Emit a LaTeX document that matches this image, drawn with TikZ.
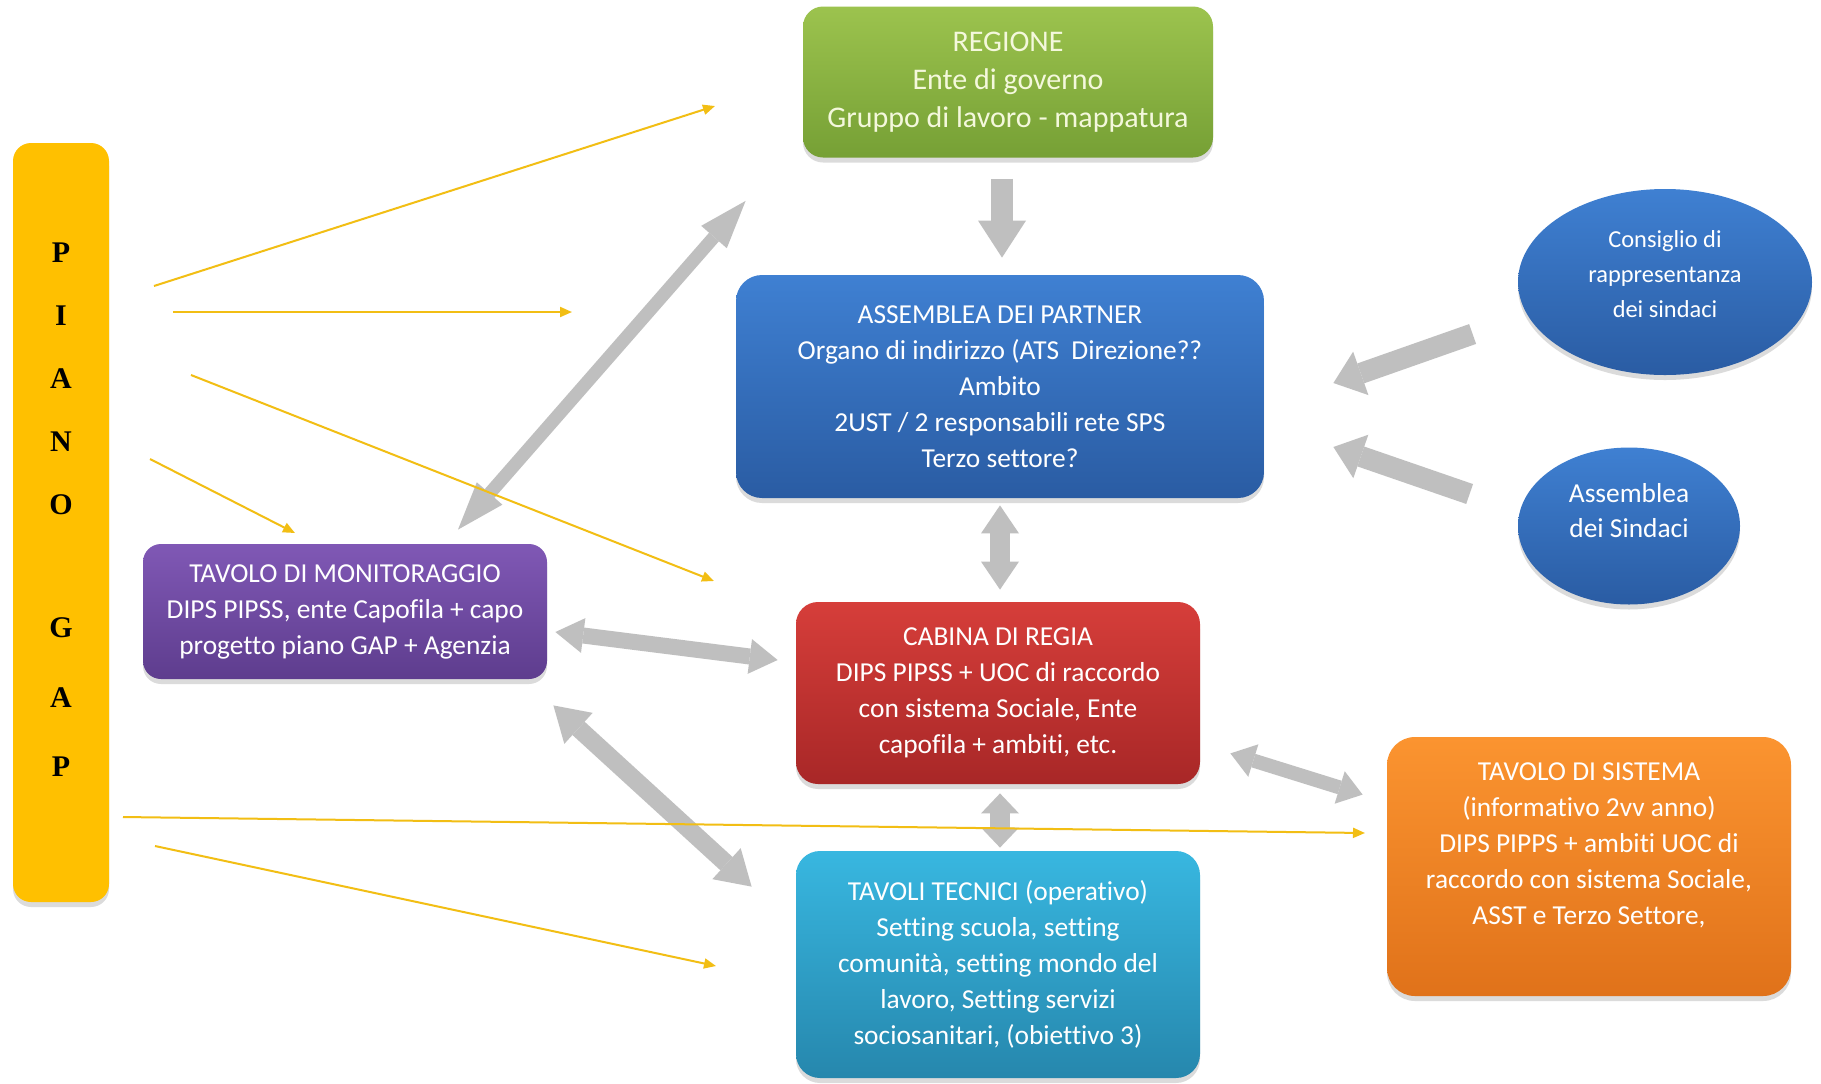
\documentclass[tikz,border=0pt]{standalone}
\usepackage{fontspec}
\setmainfont{Carlito}[Ligatures=NoCommon]
\newfontfamily\pianofont{Liberation Serif}
\usetikzlibrary{arrows.meta,shapes.geometric,shadows,calc}
\definecolor{pianoY}{HTML}{FFC000}
\definecolor{grTop}{HTML}{9CC34E}
\definecolor{grBot}{HTML}{76A035}
\definecolor{blTop}{HTML}{3F80D2}
\definecolor{blBot}{HTML}{2A5CA3}
\definecolor{puTop}{HTML}{8058B5}
\definecolor{puBot}{HTML}{5E3D8E}
\definecolor{rdTop}{HTML}{D63E3A}
\definecolor{rdBot}{HTML}{A82727}
\definecolor{cyTop}{HTML}{38B7E0}
\definecolor{cyBot}{HTML}{2687AD}
\definecolor{orTop}{HTML}{FB9430}
\definecolor{orBot}{HTML}{E0721A}
\definecolor{agray}{HTML}{BFBFBF}
\definecolor{yel}{HTML}{F2BE14}
\definecolor{regtext}{HTML}{F4F8DC}
\tikzset{
  shad/.style={drop shadow={opacity=0.28, shadow xshift=0pt, shadow yshift=-2.5pt}},
  box/.style={rectangle, rounded corners=10pt, draw=none, shad, align=center,
    text=white, font=\fontsize{13.7}{18}\selectfont, inner sep=0pt},
  ell/.style={ellipse, draw=none, shad, top color=blTop, bottom color=blBot, inner sep=0pt},
  etxt/.style={align=center, text=white, font=\fontsize{12.2}{17.5}\selectfont, inner sep=0pt},
  btxt/.style={align=center, text=white, font=\fontsize{13.7}{18}\selectfont, inner sep=0pt},
  gdbl/.style n args={3}{draw=agray, line width=#1,
    arrows={Triangle[width=#2,length=#3,line width=0pt]-Triangle[width=#2,length=#3,line width=0pt]}},
  gone/.style n args={3}{draw=agray, line width=#1,
    arrows={-Triangle[width=#2,length=#3,line width=0pt]}},
  yarr/.style={draw=yel, line width=1pt, arrows={-Triangle[width=5pt,length=6pt]}},
}
\begin{document}
\begin{tikzpicture}[x=0.5pt,y=-0.5pt]
\useasboundingbox (0,0) rectangle (1821,1083);
\fill[white] (0,0) rectangle (1821,1083);

% PIANO GAP bar
\node[box, rounded corners=9pt, fill=pianoY, minimum width=48pt, minimum height=379.5pt] (piano) at (61,522.5) {};
\node[anchor=north, align=center, inner sep=0pt, font=\pianofont\bfseries\fontsize{15}{31.5}\selectfont] (pianotext) at (61,242)
  {P\\I\\A\\N\\O\\[30pt]G\\[3.5pt]A\\[3pt]P};

% boxes
\node[box, top color=grTop, bottom color=grBot, text=regtext, font=\fontsize{15}{19}\selectfont, minimum width=205pt, minimum height=75.5pt] (regione) at (1008,82)
  {REGIONE\\Ente di governo\\Gruppo di lavoro - mappatura};
\node[box, rounded corners=13pt, top color=blTop, bottom color=blBot, minimum width=264pt, minimum height=111.5pt] (assemblea) at (1000,386.5)
  {ASSEMBLEA DEI PARTNER\\Organo di indirizzo (ATS\ \ Direzione??\\Ambito\\2UST / 2 responsabili rete SPS\\Terzo settore?};
\node[box, rounded corners=9pt, top color=puTop, bottom color=puBot, minimum width=202pt, minimum height=67.5pt] (mon) at (345,611.5)
  {TAVOLO DI MONITORAGGIO\\DIPS PIPSS, ente Capofila + capo\\progetto piano GAP + Agenzia};
\node[box, rounded corners=11pt, top color=rdTop, bottom color=rdBot, minimum width=202pt, minimum height=91pt] (cabina) at (998,693)
  {CABINA DI REGIA\\DIPS PIPSS + UOC di raccordo\\con sistema Sociale, Ente\\capofila + ambiti, etc.};
\node[box, rounded corners=12pt, top color=cyTop, bottom color=cyBot, minimum width=202pt, minimum height=113.5pt] (tecnici) at (998,964.5)
  {TAVOLI TECNICI (operativo)\\Setting scuola, setting\\comunità, setting mondo del\\lavoro, Setting servizi\\sociosanitari, (obiettivo 3)};
\node[box, rounded corners=14pt, top color=orTop, bottom color=orBot, minimum width=202pt, minimum height=129.5pt] (sistema) at (1589,866.5) {};
\node[btxt] (sistematext) at (1589,845)
  {TAVOLO DI SISTEMA\\(informativo 2vv anno)\\DIPS PIPPS + ambiti UOC di\\raccordo con sistema Sociale,\\ASST e Terzo Settore,};

% ellipses
\node[ell, minimum width=147pt, minimum height=93pt] (consiglio) at (1665,282) {};
\node[etxt] (consigliotext) at (1665,274) {Consiglio di\\rappresentanza\\dei sindaci};
\node[ell, minimum width=111pt, minimum height=78.5pt] (sindaci) at (1629,526) {};
\node[etxt, font=\fontsize{13.7}{17.5}\selectfont] (sindacitext) at (1629,511) {Assemblea\\dei Sindaci};

% gray block arrows
\draw[gone={11pt}{24pt}{18.5pt}] ($(assemblea.north |- regione.south)+(2,21)$) -- ($(assemblea.north)+(2,-17)$);
\draw[gdbl={10pt}{19pt}{14pt}] ($(assemblea.south)+(0,7)$) -- ($(assemblea.south |- cabina.north)+(0,-12)$);
\draw[gdbl={10pt}{19pt}{10pt}] ($(cabina.south)+(2,9)$) -- ($(cabina.south |- tecnici.north)+(2,-3)$);
\draw[gdbl={8pt}{17.5pt}{14pt}] ($(mon.east)+(8,20.5)$) -- ($(cabina.west)+(-18,-33)$);
\draw[gdbl={6.5pt}{17pt}{24pt}] ($(mon.north)+(113,-14)$) -- ($(regione.south west)+(-57,43)$);
\draw[gdbl={9pt}{21pt}{17pt}] ($(mon.south east)+(6,26)$) -- ($(tecnici.north west)+(-44,36)$);
\draw[gdbl={7pt}{17pt}{12pt}] ($(cabina.south east)+(30,-31)$) -- ($(sistema.north west)+(-24,58)$);
\draw[gone={10.5pt}{23pt}{14.5pt}] ($(consiglio.west)+(-45,52)$) -- ($(assemblea.east)+(69,-3.5)$);
\draw[gone={10.5pt}{23pt}{14.5pt}] ($(sindaci.west)+(-48,-32)$) -- ($(assemblea.east)+(69,60.5)$);

% yellow arrows from PIANO GAP
\coordinate (y1s) at (154,286); \coordinate (y1e) at (715,106);
\coordinate (y2s) at (173,312); \coordinate (y2e) at (572,312);
\coordinate (y3s) at (191,375); \coordinate (y3e) at (714,581);
\coordinate (y4s) at (150,459); \coordinate (y4e) at (295,533);
\coordinate (y5s) at (123,817); \coordinate (y5e) at (1365,833);
\coordinate (y6s) at (155,846); \coordinate (y6e) at (716,966);
\draw[yarr] (y1s) -- (y1e);
\draw[yarr] (y2s) -- (y2e);
\draw[yarr] (y3s) -- (y3e);
\draw[yarr] (y4s) -- (y4e);
\draw[yarr] (y5s) -- (y5e);
\draw[yarr] (y6s) -- (y6e);
\end{tikzpicture}
\end{document}
